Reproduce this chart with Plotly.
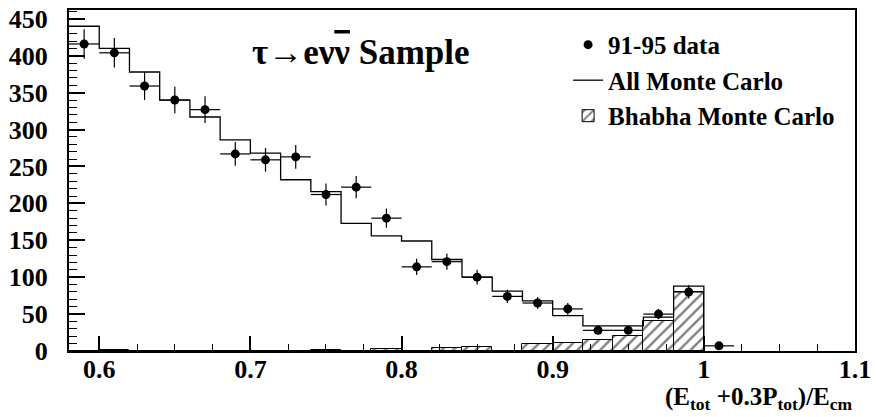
import plotly.graph_objects as go

# ---- data ----
bin_edges = [0.58, 0.60, 0.62, 0.64, 0.66, 0.68, 0.70, 0.72, 0.74, 0.76, 0.78,
             0.80, 0.82, 0.84, 0.86, 0.88, 0.90, 0.92, 0.94, 0.96, 0.98, 1.00]
mc_all = [440, 410, 378, 340, 317, 286, 268, 232, 216, 173, 156,
          149, 124, 100, 81, 68, 48, 34, 34, 46, 88]
mc_bhabha = [0, 1.5, 0, 0, 0, 0, 0, 0, 1, 0, 2.5,
             0, 4.5, 6, 0.5, 9, 11, 15, 20, 41, 80]

data_x = [0.59, 0.61, 0.63, 0.65, 0.67, 0.69, 0.71, 0.73, 0.75, 0.77, 0.79,
          0.81, 0.83, 0.85, 0.87, 0.89, 0.91, 0.93, 0.95, 0.97, 0.99, 1.01]
data_y = [416, 404, 359, 340, 327, 267, 259, 263, 212, 222, 180,
          114, 121, 100, 74, 65, 57, 28, 28, 50, 80, 7]
data_err = [20, 20, 19, 18, 18, 16, 16, 16, 15, 15, 13,
            11, 11, 10, 9, 8, 8, 5, 5, 7, 9, 3]
data_xerr = [0.01] * len(data_x)

x_ticks = [0.6, 0.7, 0.8, 0.9, 1.0, 1.1]
x_ticklabels = ["0.6", "0.7", "0.8", "0.9", "1", "1.1"]
y_ticks = [0, 50, 100, 150, 200, 250, 300, 350, 400, 450]

FONT = "Liberation Serif, Times New Roman, serif"

bin_centers = [(a + b) / 2 for a, b in zip(bin_edges[:-1], bin_edges[1:])]

fig = go.Figure()

fig.add_trace(go.Bar(
    x=bin_centers, y=mc_bhabha, width=0.02,
    name="<b>Bhabha Monte Carlo</b>",
    marker=dict(color="white", line=dict(color="black", width=1),
                pattern=dict(shape="/", fgcolor="black", bgcolor="white",
                             size=8, solidity=0.3)),
    legendrank=3,
))

fig.add_trace(go.Scatter(
    x=bin_edges, y=mc_all + [0], mode="lines", line_shape="hv",
    line=dict(color="black", width=1.3),
    name="<b>All Monte Carlo</b>", legendrank=2,
))

fig.add_trace(go.Scatter(
    x=data_x, y=data_y, mode="markers",
    marker=dict(color="black", size=9),
    error_y=dict(type="data", array=data_err, color="black", thickness=1.2, width=0),
    error_x=dict(type="data", array=data_xerr, color="black", thickness=1.2, width=0),
    name="<b>91-95 data</b>", legendrank=1,
))

fig.update_layout(
    width=876, height=417,
    margin=dict(l=69, r=18, t=5, b=66),
    plot_bgcolor="white", paper_bgcolor="white",
    font=dict(family=FONT, color="black"),
    bargap=0,
    legend=dict(x=0.635, y=0.965, xanchor="left", yanchor="top",
                font=dict(family=FONT, size=25, color="black"),
                bgcolor="rgba(0,0,0,0)", itemwidth=30,
                traceorder="normal"),
    annotations=[
        dict(text="<b>τ→eν<span style=\"text-decoration:overline\">ν</span> Sample</b>",
             xref="paper", yref="paper",
             x=0.23, y=0.875, xanchor="left", yanchor="middle",
             showarrow=False, font=dict(family=FONT, size=35, color="black")),
        dict(text="<b>(E<sub>tot</sub> +0.3P<sub>tot</sub>)/E<sub>cm</sub></b>",
             xref="paper", yref="paper", x=1.0, y=-0.14,
             xanchor="right", yanchor="middle", showarrow=False,
             font=dict(family=FONT, size=25, color="black")),
    ],
)

fig.update_xaxes(
    range=[0.58, 1.1], tickvals=x_ticks, ticktext=[f"<b>{t}</b>" for t in x_ticklabels],
    ticks="inside", ticklen=15, tickwidth=1.5, tickcolor="black",
    minor=dict(dtick=0.025, tick0=0.6, ticks="inside", ticklen=7, tickwidth=1.2, tickcolor="black"),
    showline=True, linecolor="black", linewidth=2, mirror=True,
    showgrid=False, zeroline=False,
    tickfont=dict(family=FONT, size=26, color="black"),
    ticklabelstandoff=-6,
)
fig.update_yaxes(
    range=[0, 462], tickvals=y_ticks, ticktext=[f"<b>{t}</b>" for t in y_ticks],
    ticks="inside", ticklen=16, tickwidth=1.5, tickcolor="black",
    minor=dict(dtick=10, tick0=0, ticks="inside", ticklen=8, tickwidth=1.2, tickcolor="black"),
    showline=True, linecolor="black", linewidth=2, mirror=True,
    showgrid=False, zeroline=False,
    tickfont=dict(family=FONT, size=26, color="black"),
    ticklabelstandoff=14,
)

fig.write_html("out.html")
